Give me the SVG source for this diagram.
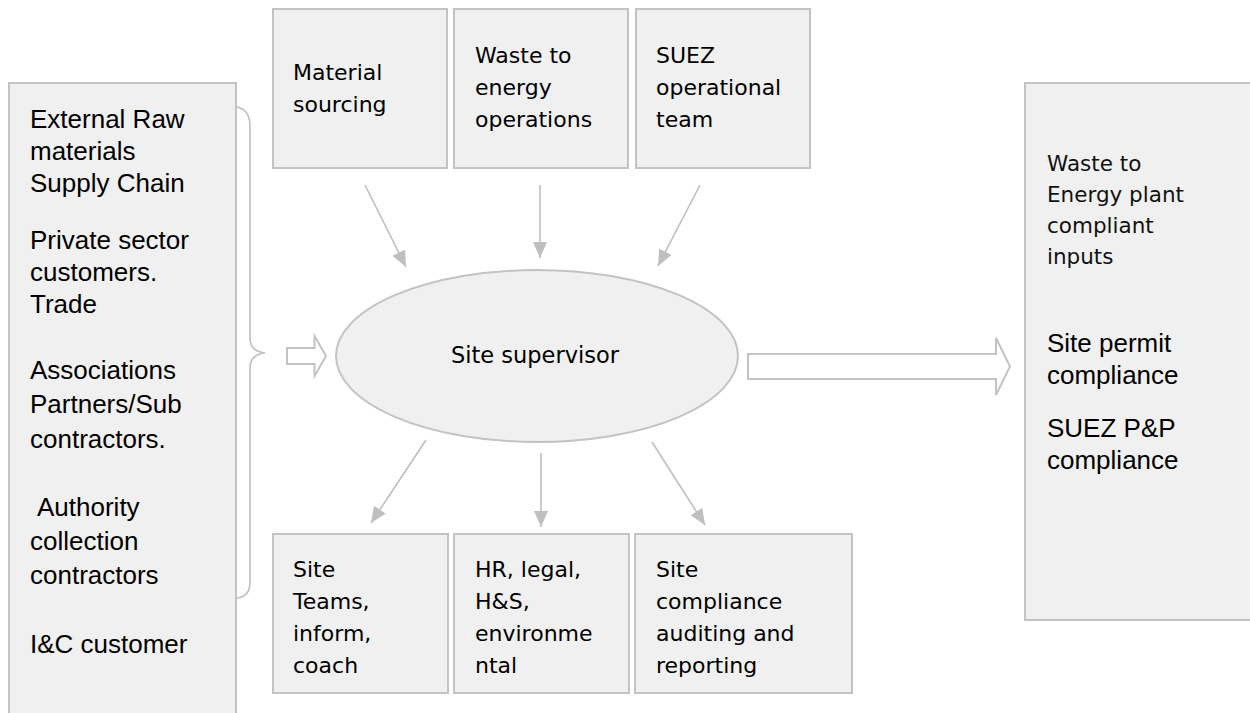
<svg xmlns="http://www.w3.org/2000/svg" width="1250" height="713" viewBox="0 0 1250 713">
  <style>
    .box { fill: #f0f0f0; stroke: #c3c3c3; stroke-width: 2; }
    .hollow { fill: #ffffff; stroke: #c3c3c3; stroke-width: 2; }
    .link { fill: none; stroke: #bfbfbf; stroke-width: 1.6; }
    .brace { fill: none; stroke: #bfbfbf; stroke-width: 1.6; }
    .arial { font-family: "Liberation Sans", Arial, sans-serif; font-size: 26px; fill: #000; }
    .verd { font-family: "DejaVu Sans", Verdana, sans-serif; font-size: 22px; fill: #000; }
    .verd-s { font-family: "DejaVu Sans", Verdana, sans-serif; font-size: 21.5px; fill: #111; }
  </style>
  <defs>
    <marker id="head" markerUnits="userSpaceOnUse" markerWidth="16" markerHeight="14" viewBox="0 0 16 14" refX="16" refY="7" orient="auto">
      <path d="M0,0 L16,7 L0,14 Z" fill="#bfbfbf"/>
    </marker>
  </defs>

  <rect width="1250" height="713" fill="#ffffff"/>

  <!-- Inputs column -->
  <g id="inputs">
    <rect class="box" x="9" y="83" width="227" height="660"/>
    <text class="arial" x="30" y="128">External Raw</text>
    <text class="arial" x="30" y="160">materials</text>
    <text class="arial" x="30" y="192">Supply Chain</text>
    <text class="arial" x="30" y="249">Private sector</text>
    <text class="arial" x="30" y="281">customers.</text>
    <text class="arial" x="30" y="313">Trade</text>
    <text class="arial" x="30" y="379">Associations</text>
    <text class="arial" x="30" y="413">Partners/Sub</text>
    <text class="arial" x="30" y="448">contractors.</text>
    <text class="arial" x="37" y="516">Authority</text>
    <text class="arial" x="30" y="550">collection</text>
    <text class="arial" x="30" y="584">contractors</text>
    <text class="arial" x="30" y="653">I&amp;C customer</text>
  </g>

  <!-- Top row -->
  <g id="material-sourcing">
    <rect class="box" x="273" y="9" width="174" height="159"/>
    <text class="verd" x="293" y="80">Material</text>
    <text class="verd" x="293" y="112">sourcing</text>
  </g>
  <g id="wte-operations">
    <rect class="box" x="454" y="9" width="174" height="159"/>
    <text class="verd" x="475" y="63">Waste to</text>
    <text class="verd" x="475" y="95">energy</text>
    <text class="verd" x="475" y="127">operations</text>
  </g>
  <g id="suez-team">
    <rect class="box" x="636" y="9" width="174" height="159"/>
    <text class="verd" x="656" y="63">SUEZ</text>
    <text class="verd" x="656" y="95">operational</text>
    <text class="verd" x="656" y="127">team</text>
  </g>

  <!-- Centre -->
  <g id="site-supervisor">
    <ellipse cx="537" cy="356" rx="201" ry="86" fill="#f0f0f0" stroke="#c3c3c3" stroke-width="2"/>
    <text class="verd" x="535" y="363" text-anchor="middle" style="font-size:22.5px">Site supervisor</text>
  </g>

  <!-- Bottom row -->
  <g id="site-teams">
    <rect class="box" x="273" y="534" width="175" height="159"/>
    <text class="verd" x="293" y="577">Site</text>
    <text class="verd" x="293" y="609">Teams,</text>
    <text class="verd" x="293" y="641">inform,</text>
    <text class="verd" x="293" y="673">coach</text>
  </g>
  <g id="support-functions">
    <rect class="box" x="454" y="534" width="175" height="159"/>
    <text class="verd" x="475" y="577">HR, legal,</text>
    <text class="verd" x="475" y="609">H&amp;S,</text>
    <text class="verd" x="475" y="641">environme</text>
    <text class="verd" x="475" y="673">ntal</text>
  </g>
  <g id="compliance-auditing">
    <rect class="box" x="635" y="534" width="217" height="159"/>
    <text class="verd" x="656" y="577">Site</text>
    <text class="verd" x="656" y="609">compliance</text>
    <text class="verd" x="656" y="641">auditing and</text>
    <text class="verd" x="656" y="673">reporting</text>
  </g>

  <!-- Outputs column -->
  <g id="outputs">
    <rect class="box" x="1025" y="83" width="240" height="537"/>
    <text class="verd-s" x="1047" y="171">Waste to</text>
    <text class="verd-s" x="1047" y="202">Energy plant</text>
    <text class="verd-s" x="1047" y="233">compliant</text>
    <text class="verd-s" x="1047" y="264">inputs</text>
    <text class="arial" x="1047" y="352">Site permit</text>
    <text class="arial" x="1047" y="384">compliance</text>
    <text class="arial" x="1047" y="437">SUEZ P&amp;P</text>
    <text class="arial" x="1047" y="469">compliance</text>
  </g>

  <!-- Connectors -->
  <g id="connectors">
    <path class="brace" d="M237,107 C246,109 250,115 250,126 L250,338 C250,347 255,352 265,353 C255,354 250,359 250,368 L250,582 C250,592 246,597 237,598"/>
    <path class="hollow" d="M287,348 L314.5,348 L314.5,336 L326,356 L314.5,376 L314.5,364 L287,364 Z"/>
    <path class="hollow" d="M748,354 L996,354 L996,338 L1010,366.5 L996,395 L996,379 L748,379 Z"/>
    <line class="link" x1="365" y1="185" x2="406" y2="267" marker-end="url(#head)"/>
    <line class="link" x1="540" y1="185" x2="540" y2="258" marker-end="url(#head)"/>
    <line class="link" x1="700" y1="185" x2="658" y2="266" marker-end="url(#head)"/>
    <line class="link" x1="426" y1="440" x2="371" y2="523" marker-end="url(#head)"/>
    <line class="link" x1="541" y1="453" x2="541" y2="527" marker-end="url(#head)"/>
    <line class="link" x1="652" y1="442" x2="705" y2="525" marker-end="url(#head)"/>
  </g>
</svg>
